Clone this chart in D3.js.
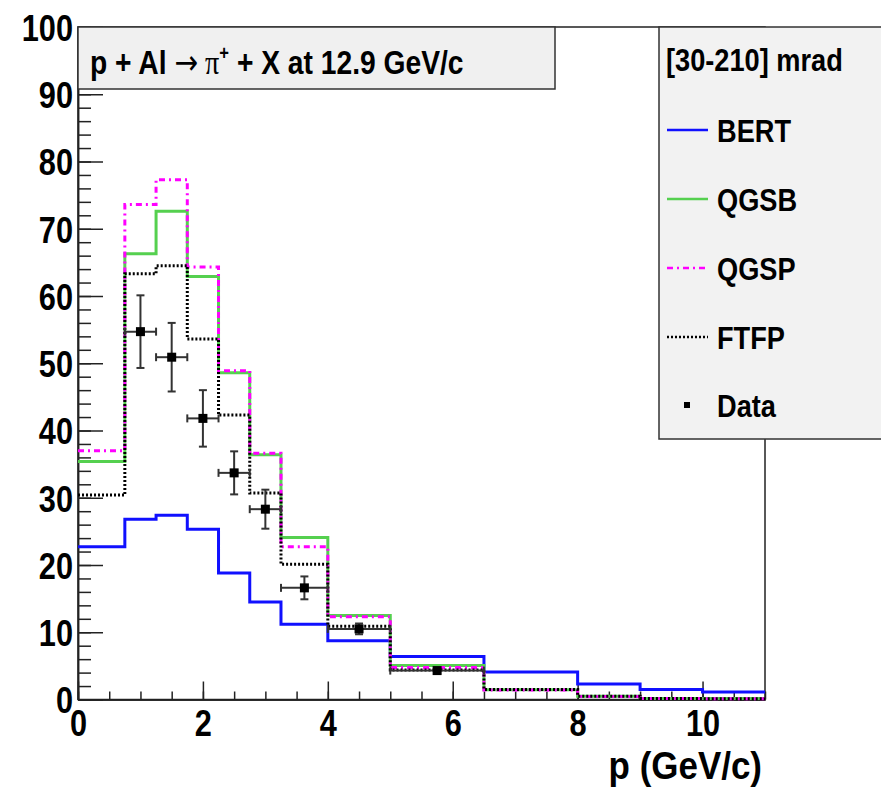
<!DOCTYPE html>
<html>
<head>
<meta charset="utf-8">
<script src="https://cdn.jsdelivr.net/npm/d3@7"></script>
<style>
  body { margin: 0; background: #fff; }
  svg text { font-family: "Liberation Sans", Arial, Helvetica, sans-serif; font-weight: bold; fill: #000; }
</style>
</head>
<body>
<svg id="chart" width="881" height="790"></svg>
<script>
// ----- data -----
const binEdges = [0, 0.75, 1.25, 1.75, 2.25, 2.75, 3.25, 4, 5, 6.5, 8, 9, 10, 11];
const bert = [22.7, 26.8, 27.4, 25.3, 18.8, 14.5, 11.2, 8.75, 6.4, 4.1, 2.3, 1.5, 1.1];
const qgsb = [35.4, 66.3, 72.6, 62.9, 48.6, 36.4, 24.1, 12.5, 5.05, 1.45, 0.5, 0.15, 0.15];
const qgsp = [37.0, 73.6, 77.3, 64.3, 48.9, 36.6, 22.7, 12.3, 4.75, 1.4, 0.45, 0.15, 0.12];
const ftfp = [30.4, 63.3, 64.5, 53.6, 42.3, 30.7, 20.1, 10.9, 4.4, 1.5, 0.5, 0.15, 0.12];

const dataX = [1, 1.5, 2, 2.5, 3, 3.625, 4.5, 5.75];
const dataXlo = [0.75, 1.25, 1.75, 2.25, 2.75, 3.25, 4, 5];
const dataXhi = [1.25, 1.75, 2.25, 2.75, 3.25, 4, 5, 6.5];
const dataY = [54.7, 50.9, 41.8, 33.7, 28.3, 16.6, 10.5, 4.3];
const dataErr = [5.4, 5.1, 4.2, 3.2, 2.9, 1.7, 0.8, 0.4];

const xTicks = [0, 2, 4, 6, 8, 10];
const yTicks = [0, 10, 20, 30, 40, 50, 60, 70, 80, 90, 100];
const legendHeader = "[30-210] mrad";
const xTitle = "p (GeV/c)";

// ----- setup -----
const svg = d3.select("svg#chart");
const frame = {left: 78, right: 765, top: 27, bottom: 699.5};

const xScale = d3.scaleLinear().domain([0, 11]).range([frame.left, frame.right]);
const yScale = d3.scaleLinear().domain([0, 100]).range([frame.bottom, frame.top]);

// frame
svg.append("rect")
   .attr("x", frame.left).attr("y", frame.top)
   .attr("width", frame.right - frame.left).attr("height", frame.bottom - frame.top)
   .attr("fill", "none").attr("stroke", "#222").attr("stroke-width", 1.5);

// axes
function styleAxis(g) {
  g.select(".domain").attr("stroke", "#222").attr("stroke-width", 1.5);
  g.selectAll(".tick line").attr("stroke", "#222").attr("stroke-width", 1.5);
}

let yMinor = d3.axisLeft(yScale).tickValues(d3.range(0, 101, 2)).tickSize(-13).tickSizeOuter(0).tickFormat("");
svg.append("g").attr("transform", "translate(" + frame.left + ",0)").call(yMinor).call(styleAxis);
let yMajor = d3.axisLeft(yScale).tickValues(yTicks).tickSize(-25).tickSizeOuter(0).tickPadding(6);
let yAxisG = svg.append("g").attr("class", "y axis").attr("transform", "translate(" + frame.left + ",0)").call(yMajor).call(styleAxis);
yAxisG.selectAll("text")
      .attr("font-size", 37).attr("font-family", null).attr("dy", "0.36em")
      .attr("transform", "scale(0.83,1)");

let xMinor = d3.axisBottom(xScale).tickValues(d3.range(0, 11.01, 0.5)).tickSize(-8).tickSizeOuter(0).tickFormat("");
svg.append("g").attr("transform", "translate(0," + frame.bottom + ")").call(xMinor).call(styleAxis);
let xMajor = d3.axisBottom(xScale).tickValues(xTicks).tickSize(-18).tickSizeOuter(0).tickPadding(10);
let xAxisG = svg.append("g").attr("class", "x axis").attr("transform", "translate(0," + frame.bottom + ")").call(xMajor).call(styleAxis);
xAxisG.selectAll("text")
      .attr("font-size", 37).attr("font-family", null)
      .attr("transform", "scale(0.83,1)");

// histograms as steps
function stepLine(values) {
  const pts = [];
  values.forEach((v, i) => {
    pts.push([binEdges[i], v]);
    pts.push([binEdges[i + 1], v]);
  });
  return d3.line().x(d => xScale(d[0])).y(d => yScale(d[1]))(pts);
}

const series = [
  {name: "BERT", values: bert, color: "#1010ff", dash: null},
  {name: "QGSB", values: qgsb, color: "#55d04f", dash: null},
  {name: "QGSP", values: qgsp, color: "#ff00ff", dash: "6,4,2,4"},
  {name: "FTFP", values: ftfp, color: "#000000", dash: "2,2"}
];

let hists = svg.append("g").attr("class", "hists");
hists.selectAll("path").data(series)
     .join("path")
     .attr("d", d => stepLine(d.values))
     .attr("fill", "none")
     .attr("stroke", d => d.color)
     .attr("stroke-width", 3)
     .attr("stroke-dasharray", d => d.dash);

// data points
const pts = dataX.map((x, i) => ({x: x, lo: dataXlo[i], hi: dataXhi[i], y: dataY[i], e: dataErr[i]}));
let dataG = svg.append("g").attr("class", "data");
let pg = dataG.selectAll("g").data(pts).join("g");
pg.append("line")
  .attr("x1", d => xScale(d.lo)).attr("x2", d => xScale(d.hi))
  .attr("y1", d => yScale(d.y)).attr("y2", d => yScale(d.y));
pg.append("line")
  .attr("x1", d => xScale(d.x)).attr("x2", d => xScale(d.x))
  .attr("y1", d => yScale(d.y - d.e)).attr("y2", d => yScale(d.y + d.e));
// end caps
pg.append("line")
  .attr("x1", d => xScale(d.x) - 4).attr("x2", d => xScale(d.x) + 4)
  .attr("y1", d => yScale(d.y + d.e)).attr("y2", d => yScale(d.y + d.e));
pg.append("line")
  .attr("x1", d => xScale(d.x) - 4).attr("x2", d => xScale(d.x) + 4)
  .attr("y1", d => yScale(d.y - d.e)).attr("y2", d => yScale(d.y - d.e));
pg.append("line")
  .attr("x1", d => xScale(d.lo)).attr("x2", d => xScale(d.lo))
  .attr("y1", d => yScale(d.y) - 4).attr("y2", d => yScale(d.y) + 4);
pg.append("line")
  .attr("x1", d => xScale(d.hi)).attr("x2", d => xScale(d.hi))
  .attr("y1", d => yScale(d.y) - 4).attr("y2", d => yScale(d.y) + 4);
pg.selectAll("line").attr("stroke", "#333").attr("stroke-width", 2);
pg.append("rect")
  .attr("x", d => xScale(d.x) - 4.5).attr("y", d => yScale(d.y) - 4.5)
  .attr("width", 9).attr("height", 9).attr("fill", "#000");

// title pave
svg.append("rect").attr("x", frame.left).attr("y", frame.top)
   .attr("width", 477).attr("height", 62)
   .attr("fill", "#f0f0f0").attr("stroke", "#333").attr("stroke-width", 1.5);
let title = svg.append("text")
   .attr("transform", "translate(90,74) scale(0.83,1)")
   .attr("font-size", 34);
title.append("tspan").text("p + Al ");
title.append("tspan").attr("font-family", "DejaVu Sans").attr("font-weight", "normal").text("\u2192");
title.append("tspan").attr("font-family", "Liberation Serif").attr("font-weight", "normal").text(" \u03C0");
title.append("tspan").attr("font-size", 20).attr("dy", -14).text("+");
title.append("tspan").attr("dy", 14).text(" + X at 12.9 GeV/c");

// legend pave
svg.append("rect").attr("x", 659).attr("y", frame.top)
   .attr("width", 240).attr("height", 412)
   .attr("fill", "#f2f2f2").attr("stroke", "#333").attr("stroke-width", 1.5);
svg.append("text").attr("transform", "translate(666,71) scale(0.85,1)")
   .attr("font-size", 32).text(legendHeader);

const legY = [130, 199, 268, 337];
let leg = svg.append("g").attr("class", "legend");
let items = leg.selectAll("g").data(series).join("g")
   .attr("transform", (d, i) => "translate(0," + legY[i] + ")");
items.append("line").attr("x1", 667).attr("x2", 708).attr("y1", 0).attr("y2", 0)
   .attr("stroke", d => d.color).attr("stroke-width", 2.5)
   .attr("stroke-dasharray", d => d.dash);
items.append("text").attr("transform", "translate(717,12) scale(0.85,1)")
   .attr("font-size", 32).text(d => d.name);
leg.append("rect").attr("x", 684).attr("y", 402).attr("width", 6).attr("height", 6).attr("fill", "#000");
leg.append("text").attr("transform", "translate(717,417) scale(0.85,1)")
   .attr("font-size", 32).text("Data");

// x title
svg.append("text").attr("transform", "translate(762,779) scale(0.92,1)")
   .attr("text-anchor", "end").attr("font-size", 38).text(xTitle);
</script>
</body>
</html>
